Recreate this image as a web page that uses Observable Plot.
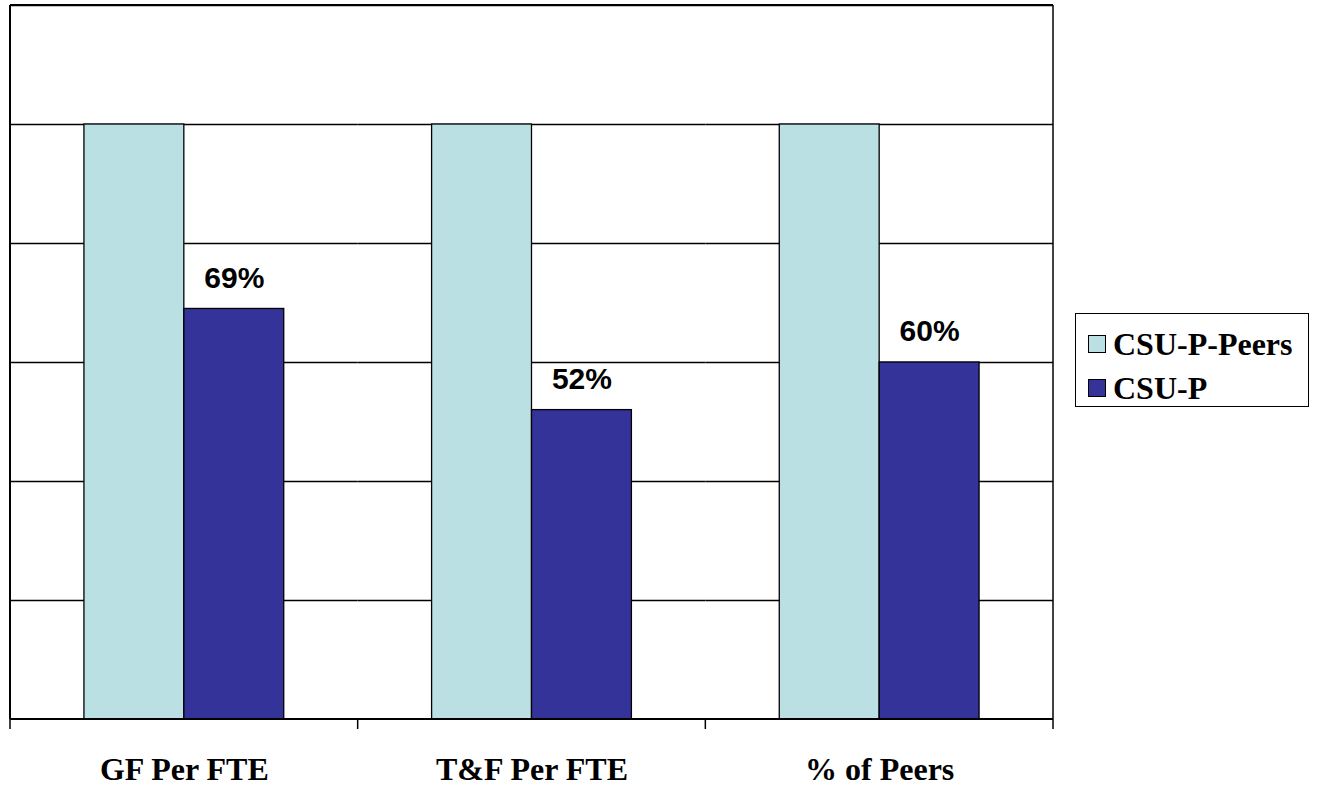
<!DOCTYPE html>
<html>
<head>
<meta charset="utf-8">
<script src="https://cdn.jsdelivr.net/npm/d3@7"></script>
<script src="https://cdn.jsdelivr.net/npm/@observablehq/plot@0.6"></script>
<style>
  html, body { margin: 0; padding: 0; background: #fff; }
  #wrap { position: relative; width: 1319px; height: 786px; }
  .serif { font-family: "Liberation Serif", "Tinos", "Times New Roman", "Nimbus Roman", "Noto Serif", "DejaVu Serif", serif; }
  #legend {
    position: absolute; left: 1075px; top: 313px; width: 234px; height: 94px;
    border: 1.5px solid #000; box-sizing: border-box; background: #fff;
    font-weight: bold; font-size: 32px;
  }
  .item { position: absolute; left: 12px; display: flex; align-items: center; line-height: 1; }
  .sw { width: 18px; height: 18px; border: 1.5px solid #000; box-sizing: border-box; margin-right: 7px; }
  #wrap svg g[aria-label="fx-axis tick label"] text { font-family: "Liberation Serif", "Tinos", "Times New Roman", "Nimbus Roman", "Noto Serif", "DejaVu Serif", serif; }
</style>
</head>
<body>
<div id="wrap"></div>
<script>
const categories = ["GF Per FTE", "T&F Per FTE", "% of Peers"];
const series = ["CSU-P-Peers", "CSU-P"];
const peersValues = [1.00, 1.00, 1.00];
const csupValues = [0.69, 0.52, 0.60];
const labels = ["69%", "52%", "60%"];
const colors = ["#BBE0E3", "#333399"];
const gridTicks = [0.2, 0.4, 0.6, 0.8, 1.0, 1.2];

const rows = categories.flatMap((c, i) => [
  {category: c, series: series[0], value: peersValues[i]},
  {category: c, series: series[1], value: csupValues[i], label: labels[i]}
]);

const serifStack = "'Liberation Serif', Tinos, 'Times New Roman', 'Nimbus Roman', 'Noto Serif', 'DejaVu Serif', serif";

const chart = Plot.plot({
  width: 1319,
  height: 786,
  marginLeft: 10,
  marginRight: 266,
  marginTop: 5,
  marginBottom: 67,
  style: {background: "#fff"},
  fx: {domain: categories, padding: 0, label: null, round: false},
  x: {domain: series, paddingInner: 0, paddingOuter: 0.74, axis: null, round: false},
  y: {domain: [0, 1.2], axis: null},
  color: {domain: series, range: colors},
  marks: [
    Plot.gridY(gridTicks, {stroke: "#000", strokeOpacity: 1, strokeWidth: 1.3}),
    Plot.barY(rows, {fx: "category", x: "series", y: "value", fill: "series", stroke: "#000", strokeWidth: 1.3}),
    Plot.text(rows.filter(d => d.label), {
      fx: "category", x: "series", y: "value", text: "label",
      dy: -31, fontSize: 30, fontWeight: "bold",
      fontFamily: "'Liberation Sans', Arial, sans-serif", fill: "#000"
    }),
    Plot.axisFx({
      anchor: "bottom", tickSize: 0, tickPadding: 38, label: null,
      fontSize: 32, fontWeight: "bold", fill: "#000"
    })
  ]
});

// frame, axis line and boundary ticks drawn from the library's scales
const fx = chart.scale("fx");
const y = chart.scale("y");
const x0 = fx.apply(categories[0]);
const x1 = fx.apply(categories[categories.length - 1]) + fx.bandwidth;
const yTop = y.apply(1.2), yBot = y.apply(0);
const svg = d3.select(chart.tagName === "svg" ? chart : chart.querySelector("svg"));
// serif font on the category labels
svg.selectAll("text").filter(function () {
  return categories.includes(this.textContent);
}).style("font-family", serifStack).style("font-weight", "bold").style("font-size", "32px");
const g = svg.append("g").attr("stroke", "#000").attr("fill", "none");
g.append("line").attr("x1", x0).attr("x2", x1).attr("y1", yTop).attr("y2", yTop).attr("stroke-width", 2);
g.append("line").attr("x1", x0).attr("x2", x0).attr("y1", yTop).attr("y2", yBot).attr("stroke-width", 2);
g.append("line").attr("x1", x1).attr("x2", x1).attr("y1", yTop).attr("y2", yBot).attr("stroke-width", 1.5);
g.append("line").attr("x1", x0).attr("x2", x1).attr("y1", yBot).attr("y2", yBot).attr("stroke-width", 2);
const edges = categories.map(c => fx.apply(c)).concat([x1]);
edges.forEach(e => g.append("line").attr("x1", e).attr("x2", e).attr("y1", yBot).attr("y2", yBot + 10).attr("stroke-width", 1.5));

const wrap = document.getElementById("wrap");
wrap.appendChild(chart);

const legend = document.createElement("div");
legend.id = "legend";
legend.className = "serif";
series.forEach((s, i) => {
  const item = document.createElement("div");
  item.className = "item";
  item.style.top = (i === 0 ? 14 : 58) + "px";
  const sw = document.createElement("div");
  sw.className = "sw";
  sw.style.background = colors[i];
  const t = document.createElement("span");
  t.textContent = s;
  item.appendChild(sw);
  item.appendChild(t);
  legend.appendChild(item);
});
wrap.appendChild(legend);
</script>
</body>
</html>
